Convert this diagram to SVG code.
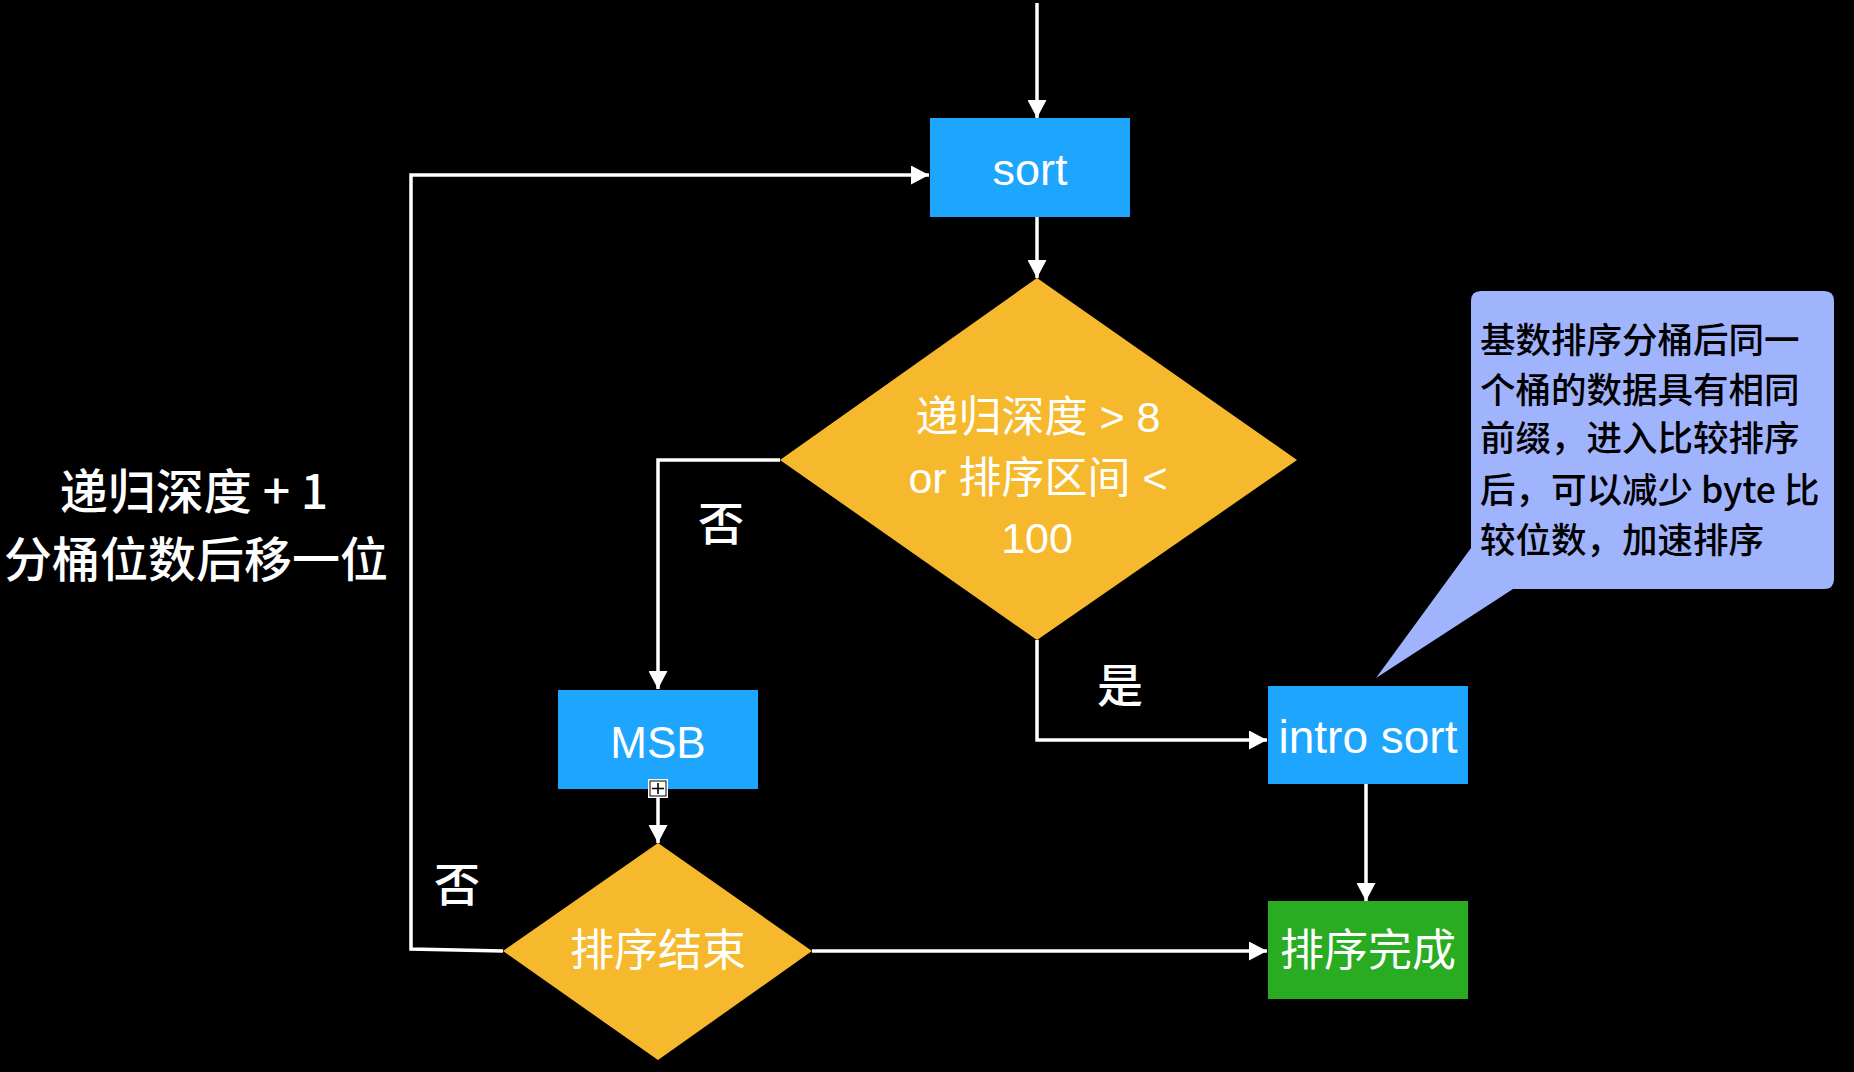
<svg xmlns="http://www.w3.org/2000/svg" width="1854" height="1072" viewBox="0 0 1854 1072">
<style>
.t{font-family:"Liberation Sans","Noto Sans CJK SC",sans-serif;text-anchor:middle}
.w{fill:#ffffff}
.lbl{font-family:"Noto Sans CJK SC","Liberation Sans",sans-serif;font-weight:500;fill:#ffffff;text-anchor:middle}
.c{fill:none;stroke:#ffffff;stroke-width:3.5}
.blue{fill:#1EA5FE}
.yel{fill:#F6B92D}
.grn{fill:#2AAC22}
</style>
<defs>
<marker id="ah" markerUnits="userSpaceOnUse" markerWidth="19" markerHeight="19" refX="18" refY="9.5" orient="auto">
<path d="M0,0 L18,9.5 L0,19 z" fill="#ffffff"/>
</marker>
</defs>
<rect x="0" y="0" width="1854" height="1072" fill="#000000"/>

<g id="connectors">
<path class="c" d="M1037,3 L1037,118" marker-end="url(#ah)"/>
<path class="c" d="M1037,217 L1037,278" marker-end="url(#ah)"/>
<path class="c" d="M780,460 L658,460 L658,689" marker-end="url(#ah)"/>
<path class="c" d="M658,798 L658,843" marker-end="url(#ah)"/>
<path class="c" d="M1037,640 L1037,740 L1267,740" marker-end="url(#ah)"/>
<path class="c" d="M1366,784 L1366,901" marker-end="url(#ah)"/>
<path class="c" d="M812,951 L1267,951" marker-end="url(#ah)"/>
<path class="c" d="M503,951 L411,949 L411,175 L929,175" marker-end="url(#ah)"/>
</g>

<g id="node-sort">
<rect class="blue" x="930" y="118" width="200" height="99"/>
<text class="t w" x="1030" y="185" font-size="45">sort</text>
</g>

<g id="node-decision1">
<polygon class="yel" points="1037,278 1297,460 1037,640 780,460"/>
<text class="t w" font-size="43"><tspan x="1038" y="432">递归深度 &gt; 8</tspan><tspan x="1038" y="493">or 排序区间 &lt;</tspan><tspan x="1037" y="553">100</tspan></text>
</g>

<g id="node-msb">
<rect class="blue" x="558" y="690" width="200" height="99"/>
<text class="t w" x="658" y="758" font-size="44">MSB</text>
<rect x="648" y="779" width="20" height="19" fill="#ffffff"/>
<rect x="650" y="781" width="16" height="15" fill="#ffffff" stroke="#000000" stroke-width="1"/>
<path d="M652,788.5 L664,788.5 M658,783 L658,794" stroke="#000000" stroke-width="1.6"/>
</g>

<g id="node-decision2">
<polygon class="yel" points="658,843 812,951 658,1060 503,951"/>
<text class="t w" x="658" y="966" font-size="44">排序结束</text>
</g>

<g id="node-intro">
<rect class="blue" x="1268" y="686" width="200" height="98"/>
<text class="t w" x="1368" y="753" font-size="46">intro sort</text>
</g>

<g id="node-done">
<rect class="grn" x="1268" y="901" width="200" height="98"/>
<text class="t w" x="1368" y="966" font-size="44">排序完成</text>
</g>

<g id="callout">
<path d="M1481,291 L1824,291 Q1834,291 1834,301 L1834,579 Q1834,589 1824,589 L1513,589 L1376,678 L1471,548 L1471,301 Q1471,291 1481,291 z" fill="#A0B3FD"/>
<text font-family="Noto Sans CJK SC,Liberation Sans,sans-serif" font-weight="500" font-size="35.5" fill="#000000">
<tspan x="1480" y="353">基数排序分桶后同一</tspan>
<tspan x="1480" y="403">个桶的数据具有相同</tspan>
<tspan x="1480" y="451">前缀，进入比较排序</tspan>
<tspan x="1480" y="503">后，可以减少 byte 比</tspan>
<tspan x="1480" y="553">较位数，加速排序</tspan>
</text>
</g>

<g id="labels">
<text class="lbl" font-size="48"><tspan x="194" y="509">递归深度 + 1</tspan><tspan x="196" y="577">分桶位数后移一位</tspan></text>
<text class="lbl" x="721" y="540" font-size="46">否</text>
<text class="lbl" x="457" y="901" font-size="46">否</text>
<text class="lbl" x="1120" y="702" font-size="46">是</text>
</g>
</svg>
